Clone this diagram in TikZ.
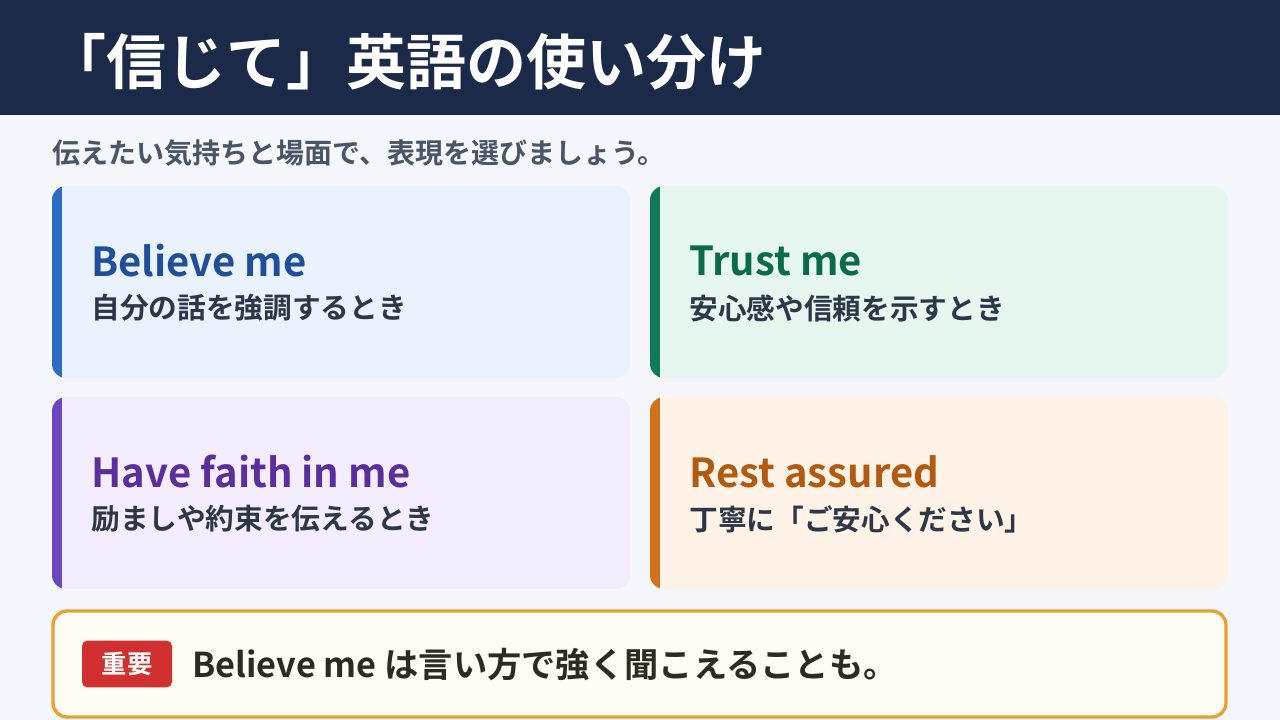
\documentclass[tikz,border=0pt]{standalone}
\usepackage{fontspec}
\setmainfont{Noto Sans CJK JP}[BoldFont={* Bold}]
\definecolor{navy}{HTML}{1C2A4A}
\definecolor{pagebg}{HTML}{F5F7FC}
\definecolor{subgray}{HTML}{4A5568}
\definecolor{bodytxt}{HTML}{2D3748}
\definecolor{blueFill}{HTML}{EAF2FE}\definecolor{blueBar}{HTML}{2B6CC4}\definecolor{blueTxt}{HTML}{1F4E9A}
\definecolor{greenFill}{HTML}{E6F7F0}\definecolor{greenBar}{HTML}{0E7A5A}\definecolor{greenTxt}{HTML}{0B6A4A}
\definecolor{purpleFill}{HTML}{F3EDFD}\definecolor{purpleBar}{HTML}{6B46C1}\definecolor{purpleTxt}{HTML}{5B2E9E}
\definecolor{orangeFill}{HTML}{FFF3E8}\definecolor{orangeBar}{HTML}{D2711C}\definecolor{orangeTxt}{HTML}{B35A12}
\definecolor{noteLine}{HTML}{E8A030}\definecolor{noteFill}{HTML}{FFFCF3}
\definecolor{badgeRed}{HTML}{D03030}\definecolor{noteTxt}{HTML}{2D2A20}
\tikzset{every picture/.style={line width=0.75pt},
  cardtitle/.style={anchor=west,inner sep=0pt,font=\bfseries\fontsize{30}{34}\selectfont},
  cardtext/.style={anchor=west,inner sep=0pt,text=bodytxt,font=\bfseries\fontsize{21.5}{24}\selectfont}}
% card: x, y, fill, bar, title colour, title, text, name
\newcommand{\usagecard}[8]{%
  \begin{scope}
  \clip[rounded corners=10.5pt] (#1,#2) rectangle ++(578,192);
  \fill[#3] (#1,#2) rectangle ++(578,192);
  \fill[#4] (#1,#2) rectangle ++(10,192);
  \end{scope}
  \node[cardtitle,text=#5] (#8t) at (#1+39,#2+75) {#6};
  \node[cardtext] (#8s) at (#1+39,#2+122) {#7};}

\begin{document}
\begin{tikzpicture}[x=0.75pt,y=0.75pt,yscale=-1,xscale=1]
\useasboundingbox (0,0) rectangle (1280,720);
\fill[pagebg] (0,0) rectangle (1280,720);
% Header
\fill[navy] (0,0) rectangle (1280,115);
\node[anchor=west,inner sep=0pt,text=white,font=\bfseries\fontsize{45}{50}\selectfont] (title) at (46,62) {「信じて」英語の使い分け};
\node[anchor=west,inner sep=0pt,text=subgray,font=\bfseries\fontsize{21}{24}\selectfont] (lead) at (52,153) {伝えたい気持ちと場面で、表現を選びましょう。};
% Cards
\usagecard{52}{186}{blueFill}{blueBar}{blueTxt}{Believe me}{自分の話を強調するとき}{believe}
\usagecard{650}{186}{greenFill}{greenBar}{greenTxt}{Trust me}{安心感や信頼を示すとき}{trust}
\usagecard{52}{397}{purpleFill}{purpleBar}{purpleTxt}{Have faith in me}{励ましや約束を伝えるとき}{faith}
\usagecard{650}{397}{orangeFill}{orangeBar}{orangeTxt}{Rest assured}{丁寧に「ご安心ください」}{rest}
% Note
\draw[noteLine,fill=noteFill,line width=2.5pt,rounded corners=10.5pt] (53,611) rectangle (1226,717);
\node[fill=badgeRed,rounded corners=4pt,minimum width=67.5pt,minimum height=35pt,inner sep=0pt,text=white,font=\bfseries\fontsize{19}{21}\selectfont] (badge) at (127,664) {重要};
\node[anchor=west,inner sep=0pt,text=noteTxt,font=\bfseries\fontsize{25.7}{29}\selectfont] (note) at (192,665) {Believe me は言い方で強く聞こえることも。};
\end{tikzpicture}
\end{document}
